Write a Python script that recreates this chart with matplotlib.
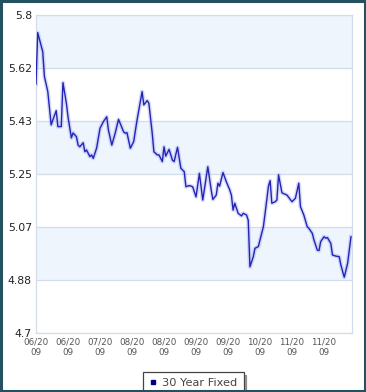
import numpy as np
import matplotlib
matplotlib.use('Agg')
import matplotlib.pyplot as plt
from matplotlib.lines import Line2D
from matplotlib.patches import Rectangle

# days since 2009-06-05 and the 30 year fixed rate
days = [0, 1, 4, 5, 7, 9, 10, 12, 13, 15, 16, 18, 19, 21, 22, 24, 25, 26, 28, 29,
        30, 32, 33, 34, 36, 38, 40, 42, 43, 45, 47, 49, 52, 53, 54, 56, 58, 60, 63, 64,
        66, 67, 69, 70, 72, 73, 75, 76, 77, 79, 81, 82, 84, 86, 88, 89, 91, 93, 95, 97,
        99, 102, 104, 105, 107, 108, 109, 111, 113, 115, 116, 117, 118, 120, 122, 123, 125, 126, 127, 129,
        130, 132, 134, 135, 137, 138, 139, 140, 142, 143, 144, 146, 149, 152, 154, 156, 157, 159, 161, 162,
        164, 165, 167, 168, 169, 171, 172, 173, 175, 176, 178, 180, 181, 183, 185, 187]
rates = [5.561, 5.739, 5.673, 5.587, 5.535, 5.420, 5.437, 5.469, 5.414, 5.414, 5.566, 5.496, 5.448, 5.375, 5.392, 5.379, 5.350, 5.344, 5.358, 5.327,
         5.333, 5.310, 5.316, 5.304, 5.340, 5.408, 5.431, 5.448, 5.402, 5.350, 5.391, 5.439, 5.396, 5.391, 5.393, 5.339, 5.362, 5.437, 5.535, 5.489,
         5.504, 5.495, 5.391, 5.327, 5.316, 5.316, 5.293, 5.344, 5.312, 5.335, 5.298, 5.293, 5.342, 5.270, 5.258, 5.206, 5.210, 5.206, 5.171, 5.252,
         5.160, 5.275, 5.195, 5.162, 5.177, 5.218, 5.208, 5.255, 5.223, 5.195, 5.177, 5.125, 5.149, 5.114, 5.105, 5.114, 5.108, 5.090, 4.929, 4.964,
         4.993, 4.999, 5.045, 5.068, 5.160, 5.208, 5.227, 5.149, 5.154, 5.160, 5.247, 5.185, 5.177, 5.154, 5.166, 5.218, 5.137, 5.108, 5.068, 5.062,
         5.045, 5.022, 4.987, 4.985, 5.016, 5.033, 5.028, 5.030, 5.010, 4.970, 4.966, 4.964, 4.935, 4.893, 4.941, 5.033]

tick_days = [0, 19, 38, 57, 76, 95, 114, 133, 152, 171]
tick_labels = ['06/20\n09', '06/20\n09', '07/20\n09', '08/20\n09', '08/20\n09',
               '09/20\n09', '09/20\n09', '10/20\n09', '11/20\n09', '11/20\n09']
y_ticks = [4.7, 4.8833, 5.0667, 5.25, 5.4333, 5.6167, 5.8]
y_labels = ['4.7', '4.88', '5.07', '5.25', '5.43', '5.62', '5.8']

fig = plt.figure(figsize=(3.66, 3.92), dpi=100)
fig.patch.set_facecolor('white')
ax = fig.add_axes([36/366, 59/392, 316/366, 318/392])

# alternating bands
for i in range(len(y_ticks) - 1):
    if i % 2 == 0:
        continue
    ax.axhspan(y_ticks[i], y_ticks[i+1], color='#eef5fd', zorder=0, lw=0)
for y in y_ticks:
    ax.axhline(y, color='#d3dde9', lw=0.9, zorder=1)

ax.plot(days, rates, color='#8c94f0', lw=3, alpha=0.35, zorder=2, solid_joinstyle='round')
ax.plot(days, rates, color='#2424b4', lw=1.0, zorder=3)

ax.set_xlim(0, 187.6)
ax.set_ylim(4.7, 5.8)
ax.set_yticks(y_ticks)
ax.set_yticklabels(y_labels, fontsize=7.8, color='#222222')
ax.set_xticks(tick_days)
ax.set_xticklabels(tick_labels, fontsize=6.3, color='#555555', linespacing=1.25)
ax.tick_params(axis='both', length=0)
ax.tick_params(axis='y', pad=3)
ax.tick_params(axis='x', pad=3)
for s in ax.spines.values():
    s.set_color('#d3dde9')
    s.set_linewidth(0.9)

handle = Line2D([], [], marker='s', color='#00008b', linestyle='none', markersize=3)
leg = fig.legend([handle], ['30 Year Fixed'], loc='center',
                 bbox_to_anchor=(193.5/366, 9/392), frameon=True, fancybox=False,
                 shadow=True, fontsize=8.2, handlelength=0.6, handletextpad=0.5,
                 borderpad=0.55)
leg.get_frame().set_edgecolor('#444444')
leg.get_frame().set_linewidth(0.9)
for t in leg.get_texts():
    t.set_color('#444444')

fig.patches.append(Rectangle((0.002, 0.002), 0.996, 0.995, transform=fig.transFigure,
                             fill=False, edgecolor='#24505f', linewidth=2.2, zorder=10))

fig.savefig('out.png', dpi=100)
